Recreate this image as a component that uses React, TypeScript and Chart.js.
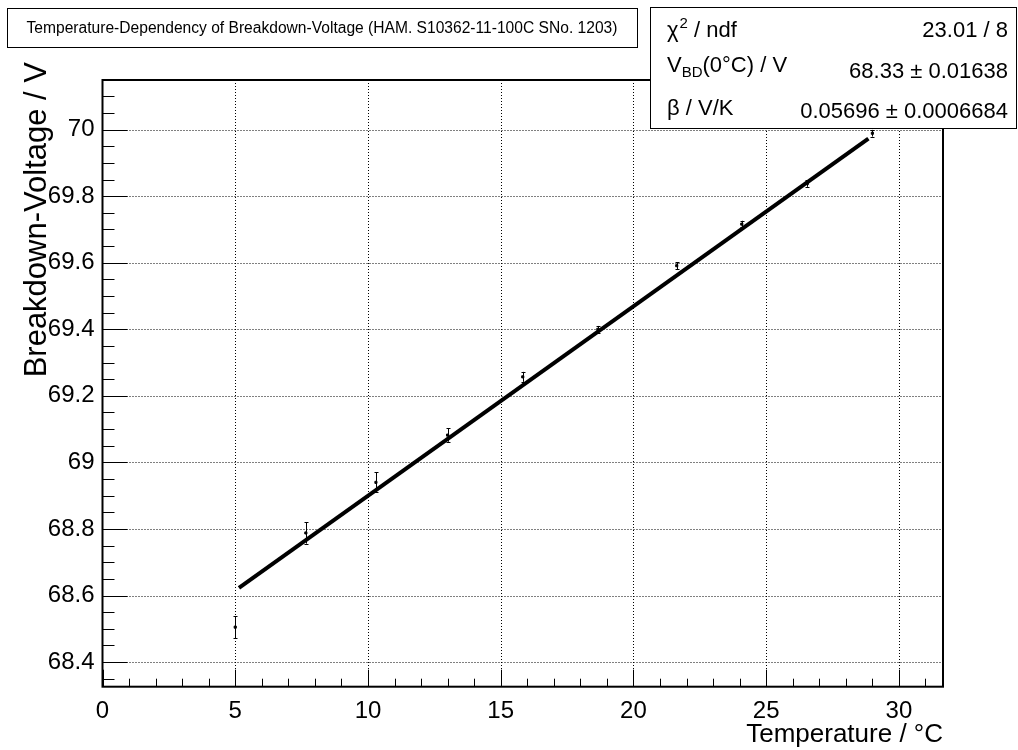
import React, { useEffect, useRef } from "react";
import { Chart, registerables } from "chart.js";

Chart.register(...registerables);

// ---- data ----
const temperature = [5.0, 7.66, 10.3, 13.0, 15.83, 18.66, 21.63, 24.08, 26.55, 29.0];
const voltage = [68.505, 68.788, 68.94, 69.082, 69.257, 69.4, 69.591, 69.716, 69.838, 69.989];
const voltageErr = [0.033, 0.032, 0.03, 0.02, 0.015, 0.01, 0.01, 0.01, 0.01, 0.01];
const fitX = [5.14, 28.85];
const fitY = [68.623, 69.973];
const xTicks = [0, 5, 10, 15, 20, 25, 30];
const yTicks = [68.4, 68.6, 68.8, 69.0, 69.2, 69.4, 69.6, 69.8, 70.0];
const xMinorStep = 1;
const yMinorStep = 0.05;
const titleText = "Temperature-Dependency of Breakdown-Voltage (HAM. S10362-11-100C SNo. 1203)";
const xTitle = "Temperature / °C";
const yTitle = "Breakdown-Voltage / V";
const statsRows = [
  { label: "χ", sup: "2", sub: "", rest: " / ndf", value: "23.01 / 8" },
  { label: "V", sup: "", sub: "BD", rest: "(0°C) / V", value: "68.33 ± 0.01638" },
  { label: "β / V/K", sup: "", sub: "", rest: "", value: "0.05696 ± 0.0006684" },
];

const FONT = "'Liberation Sans', Arial, Helvetica, sans-serif";

const decorPlugin = {
  id: "rootDecor",
  beforeDatasetsDraw(chart: any) {
    const { ctx, chartArea: a } = chart;
    const xs = chart.scales.x;
    const ys = chart.scales.y;
    ctx.save();
    // dotted grid
    ctx.strokeStyle = "#000";
    ctx.lineWidth = 1;
    ctx.setLineDash([1, 2]);
    xTicks.forEach((v) => {
      const px = Math.round(xs.getPixelForValue(v)) + 0.5;
      if (px <= a.left + 2 || px >= a.right - 2) return;
      ctx.beginPath();
      ctx.moveTo(px, a.top);
      ctx.lineTo(px, a.bottom);
      ctx.stroke();
    });
    yTicks.forEach((v) => {
      const py = Math.round(ys.getPixelForValue(v)) + 0.5;
      ctx.beginPath();
      ctx.moveTo(a.left, py);
      ctx.lineTo(a.right, py);
      ctx.stroke();
    });
    ctx.setLineDash([]);
    // ticks
    ctx.lineWidth = 1;
    for (let v = Math.ceil(xs.min / xMinorStep) * xMinorStep; v <= xs.max + 1e-9; v += xMinorStep) {
      const major = Math.abs(v / 5 - Math.round(v / 5)) < 1e-6;
      const px = Math.round(xs.getPixelForValue(v)) + 0.5;
      ctx.beginPath();
      ctx.moveTo(px, a.bottom);
      ctx.lineTo(px, a.bottom - (major ? 17 : 8));
      ctx.stroke();
    }
    const y0 = Math.ceil(ys.min / yMinorStep - 1e-6);
    for (let i = y0; i * yMinorStep <= ys.max + 1e-9; i++) {
      const v = i * yMinorStep;
      const major = i % 4 === 0;
      const py = Math.round(ys.getPixelForValue(v)) + 0.5;
      ctx.beginPath();
      ctx.moveTo(a.left, py);
      ctx.lineTo(a.left + (major ? 25 : 12), py);
      ctx.stroke();
    }
    ctx.restore();
  },
  afterDatasetsDraw(chart: any) {
    const { ctx, chartArea: a } = chart;
    const xs = chart.scales.x;
    const ys = chart.scales.y;
    ctx.save();
    // error bars
    ctx.strokeStyle = "#000";
    ctx.lineWidth = 1;
    temperature.forEach((t, i) => {
      const px = Math.round(xs.getPixelForValue(t)) + 0.5;
      const top = ys.getPixelForValue(voltage[i] + voltageErr[i]);
      const bot = ys.getPixelForValue(voltage[i] - voltageErr[i]);
      ctx.beginPath();
      ctx.moveTo(px, top);
      ctx.lineTo(px, bot);
      ctx.moveTo(px - 2, Math.round(top) + 0.5);
      ctx.lineTo(px + 2, Math.round(top) + 0.5);
      ctx.moveTo(px - 2, Math.round(bot) + 0.5);
      ctx.lineTo(px + 2, Math.round(bot) + 0.5);
      ctx.stroke();
    });
    // frame
    ctx.lineWidth = 2;
    ctx.strokeRect(a.left, a.top, a.right - a.left, a.bottom - a.top);

    // axis titles
    ctx.fillStyle = "#000";
    ctx.font = `26px ${FONT}`;
    ctx.textAlign = "right";
    ctx.textBaseline = "alphabetic";
    ctx.fillText(xTitle, a.right, 742);
    ctx.save();
    ctx.translate(46, 62);
    ctx.rotate(-Math.PI / 2);
    ctx.font = `31px ${FONT}`;
    ctx.textAlign = "right";
    ctx.fillText(yTitle, 0, 0);
    ctx.restore();

    // title box
    ctx.fillStyle = "#fff";
    ctx.fillRect(7, 8, 630, 39);
    ctx.lineWidth = 1;
    ctx.strokeStyle = "#000";
    ctx.strokeRect(7.5, 8.5, 630, 39);
    ctx.fillStyle = "#000";
    ctx.font = `15.6px ${FONT}`;
    ctx.textAlign = "center";
    ctx.textBaseline = "middle";
    ctx.fillText(titleText, 322, 28.5);

    // stats box
    const bx = 650.5, by = 7.5, bw = 366, bh = 121;
    ctx.fillStyle = "#fff";
    ctx.fillRect(bx, by, bw, bh);
    ctx.strokeRect(bx, by, bw, bh);
    ctx.fillStyle = "#000";
    ctx.textBaseline = "alphabetic";
    const labelBase = [37, 72, 115];
    const valueBase = [37, 78, 118];
    statsRows.forEach((r, i) => {
      let x = 667;
      ctx.textAlign = "left";
      ctx.font = `22px ${FONT}`;
      ctx.fillText(r.label, x, labelBase[i]);
      x += ctx.measureText(r.label).width;
      if (r.sup) {
        ctx.font = `15px ${FONT}`;
        ctx.fillText(r.sup, x + 1, labelBase[i] - 9);
        x += ctx.measureText(r.sup).width + 1;
      }
      if (r.sub) {
        ctx.font = `15px ${FONT}`;
        ctx.fillText(r.sub, x, labelBase[i] + 5);
        x += ctx.measureText(r.sub).width;
      }
      if (r.rest) {
        ctx.font = `22px ${FONT}`;
        ctx.fillText(r.rest, x, labelBase[i]);
      }
      ctx.font = `22px ${FONT}`;
      ctx.textAlign = "right";
      ctx.fillText(r.value, 1008, valueBase[i]);
    });
    ctx.restore();
  },
};

export default function App() {
  const ref = useRef<HTMLCanvasElement | null>(null);
  useEffect(() => {
    if (!ref.current) return;
    const chart = new Chart(ref.current, {
      type: "scatter",
      data: {
        datasets: [
          {
            label: "fit",
            type: "line",
            data: fitX.map((x, i) => ({ x, y: fitY[i] })),
            borderColor: "#000",
            borderWidth: 4,
            pointRadius: 0,
            fill: false,
            order: 1,
          } as any,
          {
            label: "data",
            data: temperature.map((x, i) => ({ x, y: voltage[i] })),
            backgroundColor: "#000",
            borderColor: "#000",
            pointRadius: 1.5,
            pointStyle: "rect",
            order: 0,
          },
        ],
      },
      options: {
        animation: false,
        responsive: true,
        maintainAspectRatio: false,
        layout: { padding: { top: 80, right: 75, left: 0, bottom: 0 } },
        plugins: { legend: { display: false }, tooltip: { enabled: false }, title: { display: false } },
        scales: {
          x: {
            type: "linear",
            min: 0,
            max: 31.66,
            grid: { display: false, drawTicks: false },
            border: { display: false },
            afterBuildTicks: (s: any) => {
              s.ticks = xTicks.map((v) => ({ value: v }));
            },
            afterFit: (s: any) => {
              s.height = 63.3;
            },
            ticks: {
              padding: 10,
              color: "#000",
              font: { family: FONT, size: 24 },
              maxRotation: 0,
              callback: (v: any) => String(v),
            },
          },
          y: {
            type: "linear",
            min: 68.326,
            max: 70.149,
            grid: { display: false, drawTicks: false },
            border: { display: false },
            afterBuildTicks: (s: any) => {
              s.ticks = yTicks.map((v) => ({ value: v }));
            },
            afterFit: (s: any) => {
              s.width = 102.5;
            },
            ticks: {
              padding: 8,
              color: "#000",
              font: { family: FONT, size: 24 },
              callback: (v: any) => String(+Number(v).toFixed(2)),
            },
          },
        },
      },
      plugins: [decorPlugin],
    });
    return () => chart.destroy();
  }, []);
  return (
    <div style={{ position: "fixed", left: 0, top: 0, width: 1018, height: 750, background: "#fff" }}>
      <canvas ref={ref} />
    </div>
  );
}
